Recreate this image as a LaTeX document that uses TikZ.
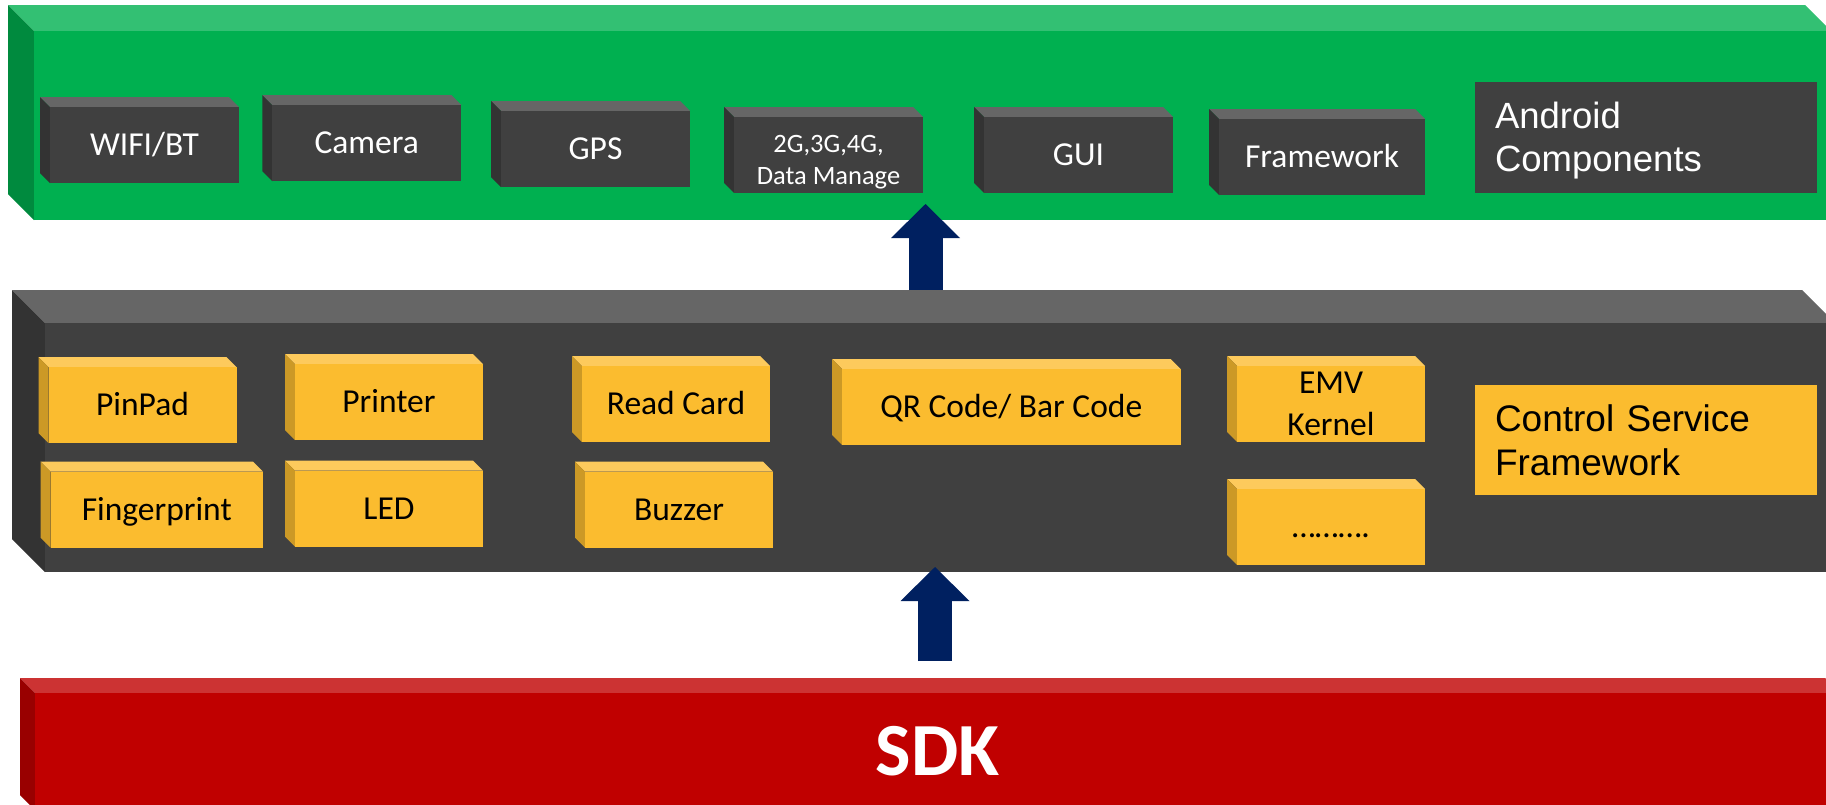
\documentclass[tikz,border=0pt]{standalone}
\definecolor{andgreen}{RGB}{0, 176, 80}
\definecolor{andgreentop}{RGB}{51, 192, 115}
\definecolor{andgreenside}{RGB}{0, 138, 62}
\definecolor{slate}{RGB}{64, 64, 64}
\definecolor{slatetop}{RGB}{102, 102, 102}
\definecolor{slateside}{RGB}{51, 51, 51}
\definecolor{amber}{RGB}{251, 188, 47}
\definecolor{ambertop}{RGB}{253, 202, 92}
\definecolor{amberside}{RGB}{204, 153, 38}
\definecolor{sdkred}{RGB}{192, 0, 0}
\definecolor{sdkredtop}{RGB}{204, 51, 51}
\definecolor{sdkredside}{RGB}{153, 0, 0}
\definecolor{arrownavy}{RGB}{0, 32, 96}
\usepackage{fontspec}
\setmainfont{Carlito}
\newfontfamily\arialfont{Liberation Sans}
\usepackage{tikz}
\usetikzlibrary{arrows.meta}

\begin{document}
\begin{tikzpicture}[x=1pt, y=-1pt,
  box3d/.style n args={3}{append after command={\pgfextra{
      \fill[#2] (\tikzlastnode.north west) -- ++(-#1,#1) -- ([shift={(-#1,#1)}]\tikzlastnode.north east) -- (\tikzlastnode.north east) -- cycle;
      \fill[#3] (\tikzlastnode.north west) -- ++(-#1,#1) -- ([shift={(-#1,#1)}]\tikzlastnode.south west) -- (\tikzlastnode.south west) -- cycle;}}},
  tier/.style={draw=none, outer sep=0pt, inner sep=0pt},
  word/.style={text height=21.6pt, text depth=0pt},
  dark/.style={tier, fill=slate, text=white, minimum width=189pt, minimum height=76pt, font=\fontsize{33.5}{40}\selectfont, box3d={10pt}{slatetop}{slateside}},
  amb/.style={tier, fill=amber, text=black, minimum width=188pt, minimum height=76pt, font=\fontsize{33.5}{42}\selectfont, box3d={10pt}{ambertop}{amberside}},
  namebox/.style={tier, align=left, text width=302pt, inner xsep=20pt, minimum height=111pt},
  blockarrow/.style={draw=arrownavy, line width=34pt, -{Triangle[length=34pt, width=69pt, line width=0pt]}}]
  \clip (0,0) rectangle (1826,804);

  % ===== Android layer =====
  \node[tier, fill=andgreen, minimum width=1797pt, minimum height=189pt, box3d={26pt}{andgreentop}{andgreenside}] (andr) at (932.5,125.5) {};

  \node[dark, word] (wifi) at (144.5,145) {WIFI/BT};
  \node[dark, word] (cam) at (366.75,143) {Camera};
  \node[dark, word] (gps) at (595.5,149) {GPS};
  \node[dark, font=\fontsize{26.5}{32}\selectfont, align=center, text height=64pt, text depth=5.4pt] (net) at (828.5,155) {2G,3G,4G,\\Data Manage};
  \node[dark, word] (gui) at (1078.5,155) {GUI};
  \node[dark, word, minimum width=206pt] (fw) at (1322,157) {Framework};
  \node[namebox, fill=slate, text=white, font=\arialfont\fontsize{36.5}{43}\selectfont, text height=27pt, text depth=46pt] (andname) at (1646,137.5) {Android\\Components};

  % ===== Control service layer =====
  \node[tier, fill=slate, minimum width=1790pt, minimum height=249pt, box3d={33pt}{slatetop}{slateside}] (ctrl) at (940,447.5) {};

  \node[amb, word] (pinpad) at (142.5,405) {PinPad};
  \node[amb, word] (printer) at (389,402) {Printer};
  \node[amb, word, minimum width=212.5pt] (finger) at (156.75,509.5) {Fingerprint};
  \node[amb, word] (led) at (389,508.5) {LED};
  \node[amb, word] (readcard) at (676,404) {Read Card};
  \node[amb, word] (buzzer) at (679,509.5) {Buzzer};
  \node[amb, word, minimum width=338.5pt] (qrcode) at (1011.25,407) {QR Code/ Bar Code};
  \node[amb, align=center] (emv) at (1331,404) {EMV\\Kernel};
  \node[amb, word] (more) at (1331,527) {……….};
  \node[namebox, fill=amber, text=black, minimum height=110pt, font=\arialfont\fontsize{37}{44}\selectfont] (ctrlname) at (1646,440) {Control Service\\Framework};

  % ===== SDK layer =====
  \node[tier, fill=sdkred, text=white, minimum width=1805pt, minimum height=117pt, font=\fontsize{75}{90}\selectfont\bfseries, box3d={15pt}{sdkredtop}{sdkredside}] (sdk) at (937.5,751.5) {SDK};

  % arrows between layers
  \coordinate (upx) at (925.5,0);
  \coordinate (lowx) at (935,0);
  \draw[blockarrow, shorten <=33pt, shorten >=-16pt] (ctrl.north -| upx) -- (andr.south -| upx);
  \draw[blockarrow, shorten <=32pt, shorten >=-5pt] (sdk.north -| lowx) -- (ctrl.south -| lowx);
\end{tikzpicture}
\end{document}
